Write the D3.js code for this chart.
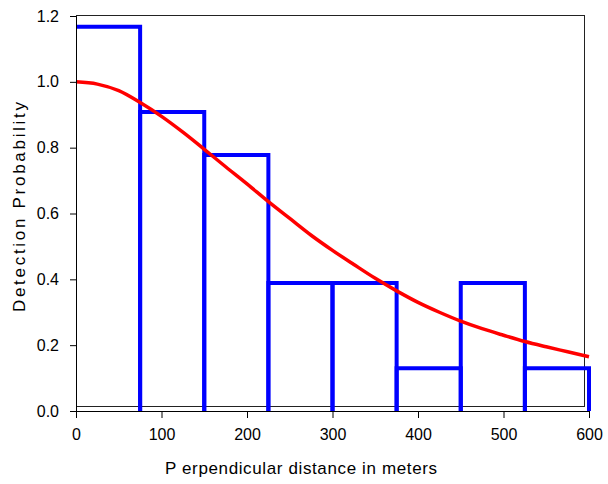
<!DOCTYPE html>
<html>
<head>
<meta charset="utf-8">
<script src="https://cdn.jsdelivr.net/npm/d3@7"></script>
<style>
  body { margin: 0; background: #fff; }
  text { font-family: "Liberation Sans", Arial, sans-serif; fill: #000; }
</style>
</head>
<body>
<svg id="chart" width="608" height="484"></svg>
<script>
var width = 608, height = 484

// histogram bins (meters) and scaled detection frequency
var binEdges = [0, 75, 150, 225, 300, 375, 450, 525, 600]
var binValues = [1.167, 0.908, 0.778, 0.389, 0.389, 0.130, 0.389, 0.130]

// fitted detection function
var curveX = [0, 25, 50, 75, 100, 125, 150, 175, 200, 225, 250, 275, 300,
              325, 350, 375, 400, 425, 450, 475, 500, 525, 550, 575, 600]
var curveY = [1.000, 0.993, 0.973, 0.937, 0.895, 0.847, 0.795, 0.742, 0.690,
              0.636, 0.585, 0.534, 0.488, 0.445, 0.403, 0.365, 0.330, 0.300,
              0.273, 0.250, 0.230, 0.211, 0.195, 0.180, 0.165]

var xTicks = [0, 100, 200, 300, 400, 500, 600]
var yTicks = [0, 0.2, 0.4, 0.6, 0.8, 1.0, 1.2]

var x = d3.scaleLinear().domain([0, 600]).range([76, 589])
var y = d3.scaleLinear().domain([0, 1.2]).range([411, 16])

var svg = d3.select('#chart')

// plot area frame
svg.append('rect')
  .attr('x', 76.5).attr('y', 15.5)
  .attr('width', 508).attr('height', 391)
  .attr('fill', 'none')
  .attr('stroke', '#222')
  .attr('stroke-width', 1)

// histogram outline
svg.append('g')
  .selectAll('path')
  .data(binValues)
  .enter().append('path')
  .attr('d', (d, i) => {
      var x0 = x(binEdges[i]), x1 = x(binEdges[i + 1])
      var p = i == 0 ? 'M' + x0 + ',' + y(d) : 'M' + x0 + ',' + y(0) + 'V' + y(d)
      return p + 'H' + x1 + 'V' + y(0)
  })
  .attr('fill', 'none')
  .attr('stroke', '#0000ff')
  .attr('stroke-width', 4)
  .attr('stroke-linejoin', 'miter')

// red detection curve
var pts = curveX.map((d, i) => [d, curveY[i]])
svg.append('path')
  .datum(pts)
  .attr('d', d3.line().x(d => x(d[0])).y(d => y(d[1])).curve(d3.curveMonotoneX))
  .attr('fill', 'none')
  .attr('stroke', '#ff0000')
  .attr('stroke-width', 3.5)

// axes
var xAxis = svg.append('g')
  .attr('transform', 'translate(0,411)')
  .call(d3.axisBottom(x).tickValues(xTicks).tickSize(7).tickSizeOuter(0).tickPadding(11))
var yAxis = svg.append('g')
  .attr('transform', 'translate(76,0)')
  .call(d3.axisLeft(y).tickValues(yTicks).tickSize(6).tickSizeOuter(0).tickPadding(11)
    .tickFormat(d3.format('.1f')))

svg.selectAll('.domain').attr('stroke', '#000')
svg.selectAll('.tick line').attr('stroke', '#000')
svg.selectAll('.tick text').style('font-size', '16px').attr('fill', '#000')
  .style('font-family', '"Liberation Sans", Arial, sans-serif')

// titles
svg.append('text')
  .attr('x', 165).attr('y', 474)
  .attr('textLength', 272)
  .attr('lengthAdjust', 'spacing')
  .style('font-size', '17px')
  .text('P erpendicular distance in meters')

svg.append('text')
  .attr('transform', 'translate(25,312) rotate(-90)')
  .attr('textLength', 210)
  .attr('lengthAdjust', 'spacing')
  .style('font-size', '17px')
  .text('Detection Probability')
</script>
</body>
</html>
